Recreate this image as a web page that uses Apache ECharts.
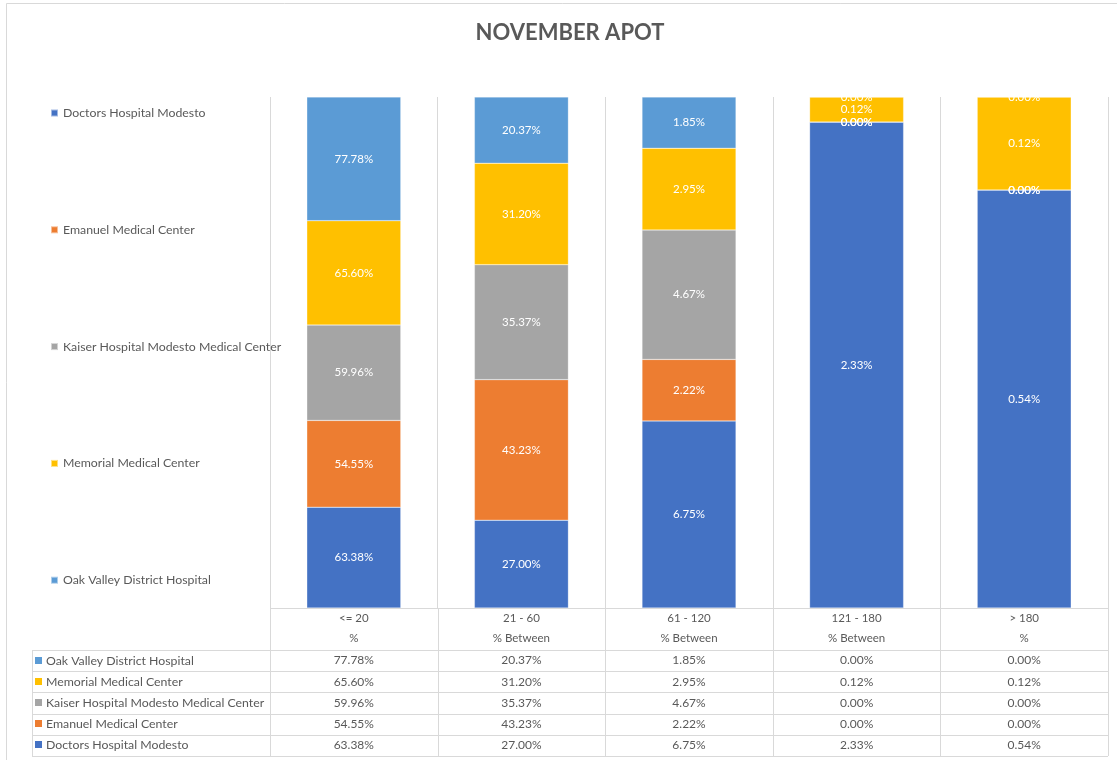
<!DOCTYPE html>
<html>
<head>
<meta charset="utf-8">
<script src="https://cdn.jsdelivr.net/npm/echarts@6/dist/echarts.min.js"></script>
<style>
html,body{margin:0;padding:0;background:#fff;}
#chart{width:1117px;height:760px;}
</style>
</head>
<body>
<div id="chart"></div>
<script>
var title = 'NOVEMBER APOT';
var categories = ['<= 20', '21 - 60', '61 - 120', '121 - 180', '> 180'];
var subLabels = ['%', '% Between', '% Between', '% Between', '%'];
var seriesNames = ['Doctors Hospital Modesto', 'Emanuel Medical Center', 'Kaiser Hospital Modesto Medical Center', 'Memorial Medical Center', 'Oak Valley District Hospital'];
var doctors   = [63.38, 27.00, 6.75, 2.33, 0.54];
var emanuel   = [54.55, 43.23, 2.22, 0.00, 0.00];
var kaiser    = [59.96, 35.37, 4.67, 0.00, 0.00];
var memorial  = [65.60, 31.20, 2.95, 0.12, 0.12];
var oakValley = [77.78, 20.37, 1.85, 0.00, 0.00];
var colors = ['#4472C4', '#ED7D31', '#A5A5A5', '#FFC000', '#5B9BD5'];

var values = [doctors, emanuel, kaiser, memorial, oakValley];
var totals = categories.map(function (c, i) {
  return values.reduce(function (s, arr) { return s + arr[i]; }, 0);
});

var FONT = 'Lato';
var TXT = '#595959';
var GL = '#d9d9d9';

var gridLeft = 270, gridRight = 9, gridTop = 97, gridBottom = 152;
var W = 1117, H = 760;
var plotW = W - gridLeft - gridRight;
var colW = plotW / categories.length;
var axisY = H - gridBottom;

var series = seriesNames.map(function (name, k) {
  return {
    name: name,
    type: 'bar',
    stack: 'total',
    barWidth: 94,
    itemStyle: { color: colors[k], borderColor: 'rgba(255,255,255,0.5)', borderWidth: 0.5 },
    label: {
      show: true,
      position: 'inside',
      color: '#ffffff',
      fontFamily: FONT,
      fontSize: 11.5,
      formatter: function (p) { return values[k][p.dataIndex].toFixed(2) + '%'; }
    },
    data: values[k].map(function (v, i) { return v / totals[i] * 100; })
  };
});

// data table graphics
var g = [];
g.push({ type: 'rect', shape: { x: 6.5, y: 3.5, width: 1120, height: 800 }, style: { fill: 'none', stroke: '#d9d9d9', lineWidth: 1 }, silent: true });
var rowTop = 650, rowH = 21.2, tableLeft = 32;
for (var i = 0; i <= categories.length; i++) {
  var x = Math.round(gridLeft + i * colW) + 0.5;
  g.push({ type: 'line', shape: { x1: x, y1: axisY, x2: x, y2: rowTop + rowH * 5 }, style: { stroke: GL, lineWidth: 1 }, silent: true });
}
g.push({ type: 'line', shape: { x1: tableLeft + 0.5, y1: rowTop, x2: tableLeft + 0.5, y2: rowTop + rowH * 5 }, style: { stroke: GL, lineWidth: 1 }, silent: true });
g.push({ type: 'line', shape: { x1: gridLeft, y1: axisY + 0.5, x2: W - gridRight, y2: axisY + 0.5 }, style: { stroke: GL, lineWidth: 1 }, silent: true });
for (var r = 0; r <= 5; r++) {
  var y = Math.round(rowTop + r * rowH) + 0.5;
  g.push({ type: 'line', shape: { x1: tableLeft, y1: y, x2: W - gridRight, y2: y }, style: { stroke: GL, lineWidth: 1 }, silent: true });
}
categories.forEach(function (c, i) {
  var cx = gridLeft + (i + 0.5) * colW;
  g.push({ type: 'text', x: cx, y: 618, style: { text: c, fill: TXT, font: '11.5px ' + FONT, textAlign: 'center', textVerticalAlign: 'middle' }, silent: true });
  g.push({ type: 'text', x: cx, y: 638, style: { text: subLabels[i], fill: TXT, font: '11.5px ' + FONT, textAlign: 'center', textVerticalAlign: 'middle' }, silent: true });
});
for (var r2 = 0; r2 < 5; r2++) {
  var k = 4 - r2;
  var cy = rowTop + (r2 + 0.5) * rowH;
  g.push({ type: 'rect', shape: { x: 35, y: Math.round(cy) - 4, width: 7, height: 7 }, style: { fill: colors[k] }, silent: true });
  g.push({ type: 'text', x: 46, y: cy, style: { text: seriesNames[k], fill: TXT, font: '12.3px ' + FONT, textAlign: 'left', textVerticalAlign: 'middle' }, silent: true });
  for (var j = 0; j < categories.length; j++) {
    g.push({ type: 'text', x: gridLeft + (j + 0.5) * colW, y: cy, style: { text: values[k][j].toFixed(2) + '%', fill: TXT, font: '12px ' + FONT, textAlign: 'center', textVerticalAlign: 'middle' }, silent: true });
  }
}

var chart = echarts.init(document.getElementById('chart'), null, { renderer: 'canvas' });
chart.setOption({
  animation: false,
  backgroundColor: '#ffffff',
  title: {
    text: title,
    left: 565,
    textAlign: 'center',
    top: 17,
    textStyle: { fontFamily: FONT, fontWeight: 'bold', fontSize: 22, color: TXT }
  },
  legend: {
    orient: 'vertical',
    left: 50,
    top: 106,
    padding: 0,
    itemWidth: 7,
    itemHeight: 7,
    itemGap: 102.8,
    icon: 'rect',
    data: seriesNames,
    textStyle: { fontFamily: FONT, fontSize: 12.3, color: TXT, lineHeight: 14 }
  },
  grid: { left: gridLeft, right: gridRight, top: gridTop, bottom: gridBottom, containLabel: false },
  xAxis: {
    type: 'category',
    data: categories,
    axisLine: { show: false },
    axisTick: { show: false },
    axisLabel: { show: false },
    splitLine: { show: true, lineStyle: { color: GL, width: 1 } }
  },
  yAxis: {
    type: 'value',
    min: 0,
    max: 100,
    show: false,
    splitLine: { show: false }
  },
  graphic: g,
  series: series
});
</script>
</body>
</html>
